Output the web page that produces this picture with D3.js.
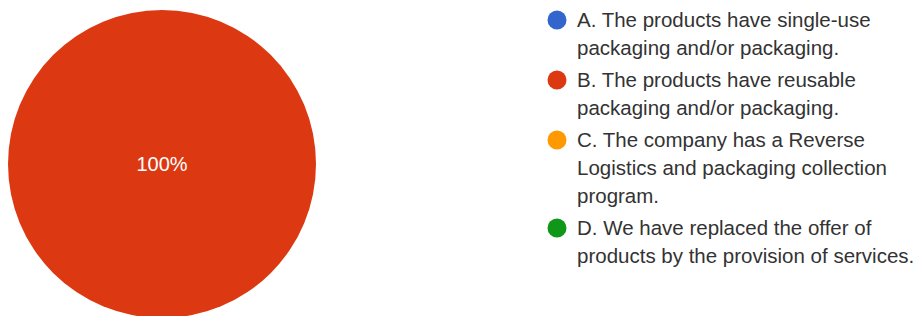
<!DOCTYPE html>
<html>
<head>
<meta charset="utf-8">
<script src="https://cdn.jsdelivr.net/npm/d3@7"></script>
<style>
  body { margin: 0; background: #fff; }
  svg { display: block; }
</style>
</head>
<body>
<div id="chart"></div>
<script>
"use strict";

// answers and their share of responses
const categories = ["A", "B", "C", "D"];
const labels = [
  ["A. The products have single-use", "packaging and/or packaging."],
  ["B. The products have reusable", "packaging and/or packaging."],
  ["C. The company has a Reverse", "Logistics and packaging collection", "program."],
  ["D. We have replaced the offer of", "products by the provision of services."]
];
const values = [0, 100, 0, 0];
const colors = ["#3366cc", "#dc3912", "#ff9900", "#109618"];

const width = 918, height = 316;

const svg = d3.select("#chart")
  .append("svg")
  .attr("width", width)
  .attr("height", height);

const color = d3.scaleOrdinal().domain(categories).range(colors);

const data = categories.map((c, i) => ({ key: c, value: values[i], lines: labels[i] }));

// pie
const radius = 154;
const pieG = svg.append("g")
  .attr("transform", "translate(162,164)");

const pie = d3.pie().sort(null).value(d => d.value);
const arc = d3.arc().innerRadius(0).outerRadius(radius);
const total = d3.sum(values);

const arcs = pie(data).filter(d => d.data.value > 0);

pieG.selectAll("path")
  .data(arcs)
  .join("path")
  .attr("fill", d => color(d.data.key))
  .attr("d", arc);

pieG.selectAll("text")
  .data(arcs)
  .join("text")
  .attr("transform", d => {
    // a full slice puts its label in the middle
    if (d.endAngle - d.startAngle >= 2 * Math.PI - 1e-6) return "translate(0,0)";
    return "translate(" + d3.arc().innerRadius(radius * 0.6).outerRadius(radius * 0.6).centroid(d) + ")";
  })
  .attr("text-anchor", "middle")
  .attr("dy", "0.35em")
  .attr("fill", "#fff")
  .style("font-family", "'Liberation Sans', Arial, sans-serif")
  .style("font-size", "20px")
  .text(d => d3.format(".0%")(d.data.value / total));

// legend
const lineH = 28, itemGap = 32;
let y = 20;
const legend = svg.append("g").attr("transform", "translate(557,0)");

data.forEach(d => {
  const item = legend.append("g").attr("transform", "translate(0," + y + ")");
  item.append("circle")
    .attr("r", 9.5)
    .attr("fill", color(d.key));
  item.append("text")
    .attr("x", 20)
    .attr("fill", "#333")
    .style("font-family", "'Liberation Sans', Arial, sans-serif")
    .style("font-size", "20.5px")
    .selectAll("tspan")
    .data(d.lines)
    .join("tspan")
    .attr("x", 20)
    .attr("y", (t, i) => i * lineH)
    .attr("dy", "0.35em")
    .text(t => t);
  y += (d.lines.length - 1) * lineH + itemGap;
});
</script>
</body>
</html>
